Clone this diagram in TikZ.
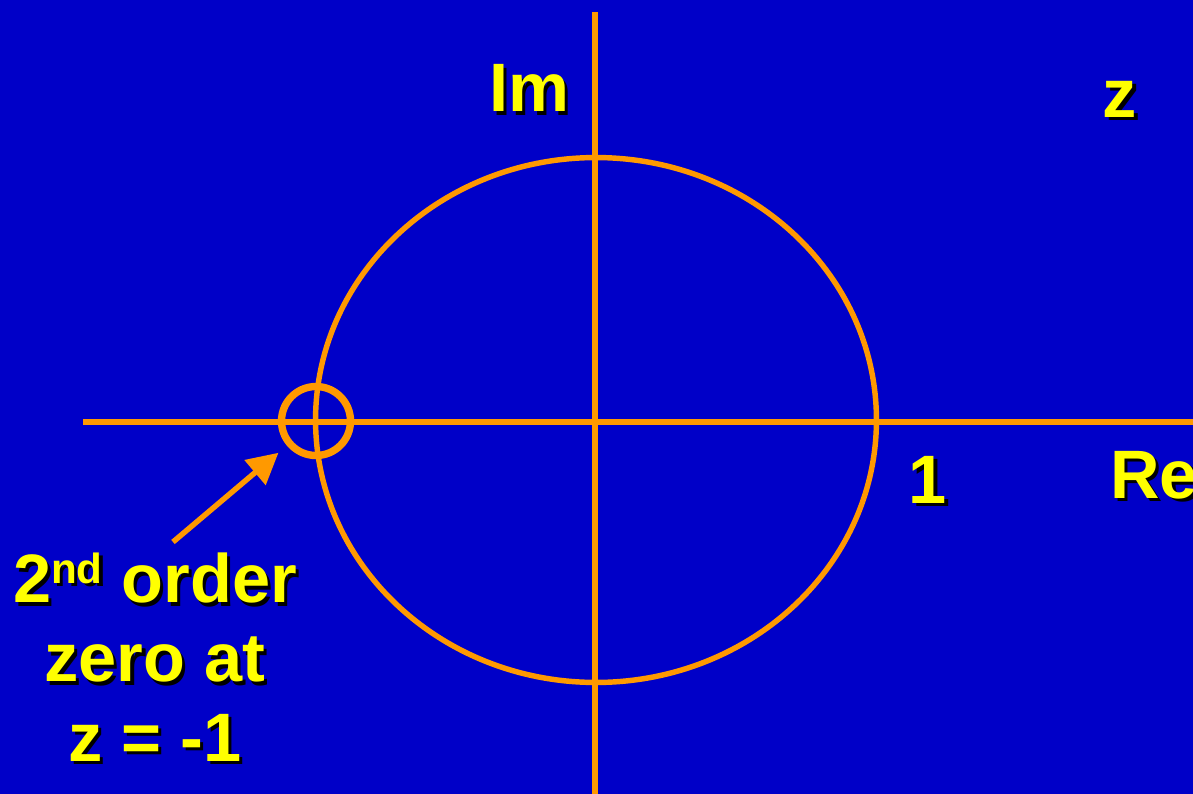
\documentclass[tikz,border=0pt]{standalone}
\usepackage{fontspec}
\setmainfont{Liberation Sans}
\definecolor{sBlue}{HTML}{0000C8}
\definecolor{sOrange}{HTML}{FF9900}
\definecolor{sYellow}{HTML}{FFFF00}
\usetikzlibrary{arrows.meta, positioning}

\tikzset{
  orangeline/.style={draw=sOrange, line width=3.1pt},
  lbl/.style={text=sYellow, font=\fontsize{39}{45}\selectfont\bfseries,
    inner sep=0pt, align=center},
  pointer/.style={orangeline, -{Triangle[length=17.5pt, width=18pt]}}
}
% yellow label with a black drop shadow
\newcommand{\shlabel}[4][]{%
  \node[lbl, #1, text=black] at ([shift={(1.8pt,-1.8pt)}]#3) {#4};
  \node[lbl, #1] (#2) at (#3) {#4};}

\begin{document}
\begin{tikzpicture}[x=0.02cm, y=-0.02cm]
\fill[sBlue] (0,0) rectangle (1193,794);
\useasboundingbox (0,0) rectangle (1193,794);

\coordinate (origin) at (596,420);

% axes and unit circle
\draw[orangeline] (595,12) -- (595,794);
\draw[orangeline] (83,422) -- (1193,422);
\draw[orangeline] (origin) ellipse [x radius=5.61cm, y radius=5.25cm];

% double zero at z = -1
\node[orangeline, line width=4.2pt, circle, minimum size=1.38cm, inner sep=0pt] (zero) at (316,421) {};

\shlabel[anchor=base]{im}{529,112}{Im}
\shlabel[anchor=base]{zplane}{1120,117}{z}
\shlabel[anchor=base]{one}{928,503}{1}
\shlabel[anchor=base west]{re}{1110,498}{Re}
\shlabel{note}{155,657}{2\raisebox{11pt}{\fontsize{24}{24}\selectfont nd} order\\zero at\\z = -1}

\coordinate (tail) at (173,542);
\draw[pointer, shorten >=0.22cm] (tail) -- (zero);
\end{tikzpicture}
\end{document}
